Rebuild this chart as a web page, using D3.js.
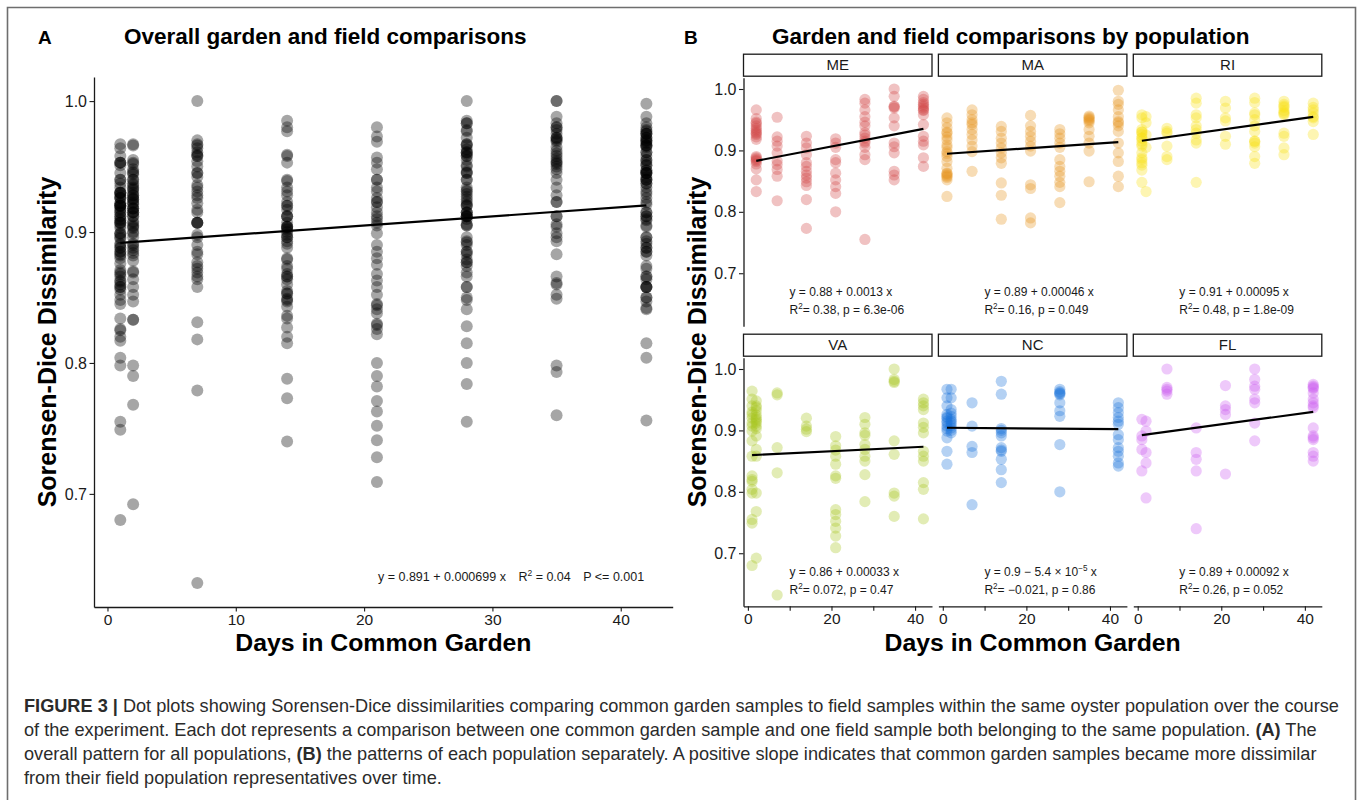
<!DOCTYPE html>
<html>
<head>
<meta charset="utf-8">
<script src="https://cdn.jsdelivr.net/npm/d3@7"></script>
<style>
  body { margin: 0; background: #fff; }
  svg { display: block; }
  text { font-family: "Liberation Sans", Arial, Helvetica, sans-serif; }
</style>
</head>
<body>
<svg id="fig" width="1362" height="800"></svg>
<script>
// ---- Data -------------------------------------------------------------
const populations = ["ME", "MA", "RI", "VA", "NC", "FL"];
const popColors   = ["#D24545", "#E8961E", "#F9E015", "#A6C61E", "#1A74DA", "#CB5CF0"];

// Sorensen-Dice dissimilarity (garden vs field), by day in common garden
const ME = {
  2:  [0.966, 0.952, 0.946, 0.944, 0.940, 0.936, 0.933, 0.930, 0.928, 0.926, 0.922, 0.918, 0.890, 0.888, 0.886, 0.884, 0.882, 0.878, 0.870, 0.852, 0.833],
  7:  [0.954, 0.922, 0.915, 0.907, 0.896, 0.883, 0.877, 0.869, 0.858, 0.818],
  14: [0.923, 0.912, 0.904, 0.893, 0.880, 0.874, 0.866, 0.860, 0.855, 0.849, 0.843, 0.820, 0.773],
  21: [0.919, 0.912, 0.905, 0.885, 0.880, 0.863, 0.852, 0.841, 0.830, 0.800],
  28: [0.983, 0.977, 0.966, 0.955, 0.946, 0.940, 0.929, 0.925, 0.920, 0.915, 0.912, 0.905, 0.893, 0.885, 0.755],
  35: [1.000, 0.988, 0.972, 0.971, 0.969, 0.953, 0.940, 0.912, 0.906, 0.896, 0.866, 0.860, 0.852],
  42: [0.988, 0.983, 0.978, 0.975, 0.972, 0.969, 0.966, 0.965, 0.958, 0.942, 0.923, 0.915, 0.909, 0.888, 0.874]
};
const MA = {
  1:  [0.953, 0.945, 0.937, 0.930, 0.928, 0.922, 0.917, 0.909, 0.905, 0.898, 0.895, 0.890, 0.882, 0.871, 0.863, 0.862, 0.860, 0.858, 0.856, 0.852, 0.825],
  7:  [0.966, 0.958, 0.950, 0.945, 0.942, 0.934, 0.926, 0.917, 0.907, 0.898, 0.866],
  14: [0.939, 0.931, 0.920, 0.912, 0.904, 0.896, 0.888, 0.879, 0.847, 0.827, 0.788],
  21: [0.957, 0.940, 0.931, 0.923, 0.915, 0.907, 0.899, 0.844, 0.838, 0.790, 0.782],
  28: [0.934, 0.927, 0.920, 0.912, 0.905, 0.885, 0.874, 0.866, 0.858, 0.848, 0.841, 0.815],
  35: [0.956, 0.954, 0.952, 0.950, 0.948, 0.945, 0.934, 0.923, 0.912, 0.899, 0.849],
  42: [0.998, 0.980, 0.975, 0.966, 0.955, 0.947, 0.945, 0.940, 0.931, 0.912, 0.896, 0.882, 0.858, 0.841]
};
const RI = {
  1:  [0.958, 0.953, 0.934, 0.930, 0.930, 0.926, 0.920, 0.920, 0.915, 0.910, 0.907, 0.896, 0.888, 0.885, 0.880, 0.876, 0.868, 0.848],
  2:  [0.955, 0.945, 0.925, 0.905, 0.833],
  7:  [0.936, 0.931, 0.928, 0.907, 0.890, 0.885],
  14: [0.985, 0.977, 0.958, 0.953, 0.940, 0.934, 0.928, 0.917, 0.912, 0.848],
  21: [0.980, 0.969, 0.953, 0.948, 0.923, 0.910],
  28: [0.985, 0.978, 0.961, 0.958, 0.950, 0.940, 0.931, 0.915, 0.915, 0.912, 0.906, 0.890, 0.879],
  35: [0.980, 0.975, 0.972, 0.970, 0.965, 0.962, 0.960, 0.958, 0.928, 0.923, 0.904, 0.893],
  42: [0.977, 0.970, 0.966, 0.961, 0.955, 0.953, 0.947, 0.926]
};
const VA = {
  1:  [0.964, 0.951, 0.940, 0.930, 0.926, 0.920, 0.912, 0.907, 0.899, 0.883, 0.858, 0.826, 0.820, 0.817, 0.804, 0.798, 0.755, 0.749, 0.680],
  2:  [0.948, 0.940, 0.937, 0.932, 0.925, 0.921, 0.918, 0.915, 0.912, 0.907, 0.903, 0.891, 0.869, 0.858, 0.798, 0.768, 0.692],
  7:  [0.961, 0.958, 0.872, 0.831, 0.632],
  14: [0.920, 0.907, 0.902, 0.898],
  21: [0.890, 0.875, 0.868, 0.858, 0.845, 0.826, 0.822, 0.771, 0.763, 0.752, 0.741, 0.728, 0.709],
  28: [0.921, 0.910, 0.896, 0.892, 0.877, 0.869, 0.858, 0.850, 0.828, 0.784],
  35: [1.000, 0.983, 0.980, 0.978, 0.883, 0.861, 0.798, 0.793, 0.760],
  42: [0.951, 0.945, 0.940, 0.934, 0.912, 0.905, 0.896, 0.866, 0.858, 0.850, 0.815, 0.804, 0.756]
};
const NC = {
  1:  [0.967, 0.953, 0.940, 0.926, 0.922, 0.920, 0.915, 0.912, 0.907, 0.903, 0.899, 0.888, 0.866, 0.845],
  2:  [0.967, 0.953, 0.934, 0.928, 0.923, 0.918, 0.915, 0.912, 0.908, 0.904, 0.900, 0.896],
  7:  [0.945, 0.907, 0.874, 0.864, 0.779],
  14: [0.980, 0.959, 0.903, 0.900, 0.896, 0.891, 0.872, 0.868, 0.866, 0.853, 0.836, 0.815],
  28: [0.967, 0.963, 0.961, 0.960, 0.958, 0.945, 0.932, 0.923, 0.877, 0.800],
  42: [0.945, 0.937, 0.929, 0.921, 0.915, 0.910, 0.893, 0.885, 0.872, 0.866, 0.858, 0.847, 0.842]
};
const FL = {
  1:  [0.918, 0.891, 0.885, 0.869, 0.834],
  2:  [0.915, 0.899, 0.864, 0.847, 0.790],
  7:  [1.000, 0.970, 0.967, 0.964, 0.959],
  14: [0.904, 0.864, 0.853, 0.834, 0.740],
  21: [0.973, 0.940, 0.934, 0.926, 0.829],
  28: [1.000, 0.983, 0.972, 0.967, 0.951, 0.945, 0.912, 0.883],
  42: [0.975, 0.972, 0.970, 0.968, 0.961, 0.951, 0.945, 0.940, 0.937, 0.904, 0.891, 0.888, 0.885, 0.864, 0.858, 0.850]
};
const popData = [ME, MA, RI, VA, NC, FL];

// Linear fits per population (y = a + b x)
const fitIntercept = [0.8804, 0.8941, 0.9148, 0.8595, 0.9044, 0.8915];
const fitSlope     = [0.0013, 0.00046, 0.00095, 0.00033, -0.000054, 0.00092];
const fitR2        = [0.38, 0.16, 0.48, 0.072, -0.021, 0.26];
const fitP         = ["6.3e-06", "0.049", "1.8e-09", "0.47", "0.86", "0.052"];

// Linear fit over all populations
const overallIntercept = 0.891;
const overallSlope = 0.000699;
const overallR2 = 0.04;
const overallP = "<= 0.001";

const yTicks = [0.7, 0.8, 0.9, 1.0];
const xTicksA = [0, 10, 20, 30, 40];
const xTicksB = [0, 10, 20, 30, 40];
const xLabelsB = [0, 20, 40];

const captionLines = [
  [{t: "FIGURE 3 |", b: true}, {t: " Dot plots showing Sorensen-Dice dissimilarities comparing common garden samples to field samples within the same oyster population over the course"}],
  [{t: "of the experiment. Each dot represents a comparison between one common garden sample and one field sample both belonging to the same population. "}, {t: "(A)", b: true}, {t: " The"}],
  [{t: "overall pattern for all populations, "}, {t: "(B)", b: true}, {t: " the patterns of each population separately. A positive slope indicates that common garden samples became more dissimilar"}],
  [{t: "from their field population representatives over time."}]
];

// ---- Helpers ------------------------------------------------------------
const svg = d3.select("#fig");
const INK = "#1a1a1a";

function toPoints(obj) {
  return Object.keys(obj).flatMap(d => obj[d].map(v => ({day: +d, value: v})));
}
function expand(ext, f = 0.05) {
  const pad = (ext[1] - ext[0]) * f;
  return [ext[0] - pad, ext[1] + pad];
}
// Appends text pieces; pieces flagged sup are raised superscripts,
// and the piece after a superscript returns to the baseline.
function richText(sel, pieces, fs) {
  let raised = 0;
  pieces.forEach(p => {
    const ts = sel.append("tspan").text(p.t);
    if (p.sup) {
      const shift = fs * 0.42;
      ts.attr("font-size", fs * 0.68).attr("dy", -shift);
      raised = shift;
    } else {
      if (raised) ts.attr("dy", raised);
      raised = 0;
      if (p.b) ts.attr("font-weight", "bold");
    }
  });
}
const minus = s => s.replace("-", "\u2212");
const fmtCoef = d3.format(".2~r");

function slopePieces(b, fmt) {
  const sign = b < 0 ? " \u2212 " : " + ";
  const a = Math.abs(b);
  if (a < 1e-4) {
    const e = Math.floor(Math.log10(a));
    const m = d3.format(".2~r")(a / Math.pow(10, e));
    return [{t: sign + m + " \u00d7 10"}, {t: "\u2212" + Math.abs(e), sup: true}, {t: " x"}];
  }
  return [{t: sign + fmt(a) + " x"}];
}

function styleAxis(g) {
  g.selectAll(".domain").attr("stroke", INK).attr("stroke-width", 1.3);
  g.selectAll(".tick line").attr("stroke", INK).attr("stroke-width", 1.1);
  g.selectAll(".tick text").attr("fill", INK)
    .style("font-family", '"Liberation Sans", Arial, sans-serif');
}

// ---- Shared scale domains ----------------------------------------------
const allPoints = popData.flatMap(toPoints);
const xDomain = expand(d3.extent(allPoints, d => d.day));
const yDomain = expand(d3.extent(allPoints, d => d.value));

// ---- Outer frame -----------------------------------------------------------
svg.append("path")
  .attr("d", "M7.5,801 V7.5 H1355.5 V801")
  .attr("fill", "none").attr("stroke", "#6e6e6e").attr("stroke-width", 1.6);

// ---- Panel A -------------------------------------------------------------
const A = {left: 94, right: 672.7, top: 77, bottom: 607};
const xA = d3.scaleLinear().domain(xDomain).range([A.left, A.right]);
const yA = d3.scaleLinear().domain(yDomain).range([A.bottom, A.top]);

svg.append("text").attr("x", 38).attr("y", 44).attr("font-size", 19)
  .attr("font-weight", "bold").attr("fill", "#000").text("A");
svg.append("text").attr("x", 124).attr("y", 44).attr("font-size", 22.5)
  .attr("font-weight", "bold").attr("fill", "#000").text("Overall garden and field comparisons");

const gA = svg.append("g");
gA.selectAll("circle").data(allPoints).join("circle")
  .attr("cx", d => xA(d.day)).attr("cy", d => yA(d.value)).attr("r", 6)
  .attr("fill", "#000").attr("fill-opacity", 0.35);

const dayExtAll = d3.extent(allPoints, d => d.day);
gA.append("line")
  .attr("x1", xA(dayExtAll[0])).attr("y1", yA(overallIntercept + overallSlope * dayExtAll[0]))
  .attr("x2", xA(dayExtAll[1])).attr("y2", yA(overallIntercept + overallSlope * dayExtAll[1]))
  .attr("stroke", "#000").attr("stroke-width", 2.2);

svg.append("g").attr("transform", `translate(${A.left},0)`)
  .call(d3.axisLeft(yA).tickValues(yTicks).tickFormat(d3.format(".1f")).tickSize(4.5).tickPadding(2.5).tickSizeOuter(0))
  .call(g => g.selectAll("text").attr("font-size", 16))
  .call(styleAxis);
svg.append("g").attr("transform", `translate(0,${A.bottom})`)
  .call(d3.axisBottom(xA).tickValues(xTicksA).tickFormat(d3.format("d")).tickSize(4.5).tickPadding(2.5).tickSizeOuter(0))
  .call(g => g.selectAll("text").attr("font-size", 15.5))
  .call(styleAxis);

{
  const fs = 12.5;
  const fmt3 = d3.format(".3~r");
  const t = svg.append("text").attr("x", 378).attr("y", 581).attr("font-size", fs).attr("fill", INK);
  richText(t, [
    {t: "y = " + fmt3(overallIntercept)},
    ...slopePieces(overallSlope, fmt3),
    {t: "\u2002\u2002R"}, {t: "2", sup: true}, {t: " = " + overallR2 + "\u2002\u2002P " + overallP}
  ], fs);
}

svg.append("text")
  .attr("transform", `translate(56,${(A.top + A.bottom) / 2}) rotate(-90)`)
  .attr("text-anchor", "middle").attr("font-size", 25).attr("font-weight", "bold")
  .attr("fill", "#000").text("Sorensen-Dice Dissimilarity");
svg.append("text").attr("x", (A.left + A.right) / 2).attr("y", 651)
  .attr("text-anchor", "middle").attr("font-size", 24.8).attr("font-weight", "bold")
  .attr("fill", "#000").text("Days in Common Garden");

// ---- Panel B (faceted by population) -------------------------------------
const colX = [743.5, 938.4, 1133.3];
const panelW = 188.5;
const rowTop = [77.7, 357.7];
const panelH = 248.6;

svg.append("text").attr("x", 684).attr("y", 44).attr("font-size", 19)
  .attr("font-weight", "bold").attr("fill", "#000").text("B");
svg.append("text").attr("x", 772).attr("y", 44).attr("font-size", 22.5)
  .attr("font-weight", "bold").attr("fill", "#000").text("Garden and field comparisons by population");

populations.forEach((pop, i) => {
  const col = i % 3, row = Math.floor(i / 3);
  const x0 = colX[col], top = rowTop[row], bottom = top + panelH;
  const x = d3.scaleLinear().domain(xDomain).range([x0, x0 + panelW]);
  const y = d3.scaleLinear().domain(yDomain).range([bottom, top]);
  const pts = toPoints(popData[i]);
  const g = svg.append("g");

  // strip
  g.append("rect").attr("x", x0).attr("y", top - 23.5).attr("width", panelW).attr("height", 22)
    .attr("fill", "#fff").attr("stroke", INK).attr("stroke-width", 1.3);
  g.append("text").attr("x", x0 + panelW / 2).attr("y", top - 7.3).attr("text-anchor", "middle")
    .attr("font-size", 15).attr("fill", INK).text(pop);

  g.selectAll("circle").data(pts).join("circle")
    .attr("cx", d => x(d.day)).attr("cy", d => y(d.value)).attr("r", 5.6)
    .attr("fill", popColors[i]).attr("fill-opacity", 0.33);

  const ext = d3.extent(pts, d => d.day);
  g.append("line")
    .attr("x1", x(ext[0])).attr("y1", y(fitIntercept[i] + fitSlope[i] * ext[0]))
    .attr("x2", x(ext[1])).attr("y2", y(fitIntercept[i] + fitSlope[i] * ext[1]))
    .attr("stroke", "#000").attr("stroke-width", 2.2);

  const fs = 12;
  const t1 = g.append("text").attr("x", x0 + 46).attr("y", top + 218).attr("font-size", fs).attr("fill", INK);
  richText(t1, [{t: "y = " + fmtCoef(fitIntercept[i])}, ...slopePieces(fitSlope[i], fmtCoef)], fs);
  const t2 = g.append("text").attr("x", x0 + 46).attr("y", top + 236).attr("font-size", fs).attr("fill", INK);
  richText(t2, [{t: "R"}, {t: "2", sup: true}, {t: "= " + minus(String(fitR2[i])) + ", p = " + fitP[i]}], fs);

  if (col === 0) {
    g.append("g").attr("transform", `translate(${x0},0)`)
      .call(d3.axisLeft(y).tickValues(yTicks).tickFormat(d3.format(".1f")).tickSize(4.5).tickPadding(2.5).tickSizeOuter(0))
      .call(a => a.selectAll("text").attr("font-size", 16))
      .call(styleAxis);
  }
  if (row === 1) {
    g.append("g").attr("transform", `translate(0,${bottom})`)
      .call(d3.axisBottom(x).tickValues(xTicksB)
        .tickFormat(d => xLabelsB.includes(d) ? d3.format("d")(d) : "")
        .tickSize(4.5).tickPadding(2.5).tickSizeOuter(0))
      .call(a => a.selectAll("text").attr("font-size", 15.5))
      .call(styleAxis);
  }
});

svg.append("text")
  .attr("transform", `translate(706,${(rowTop[0] + rowTop[1] + panelH) / 2}) rotate(-90)`)
  .attr("text-anchor", "middle").attr("font-size", 25).attr("font-weight", "bold")
  .attr("fill", "#000").text("Sorensen-Dice Dissimilarity");
svg.append("text").attr("x", (colX[0] + colX[2] + panelW) / 2).attr("y", 651)
  .attr("text-anchor", "middle").attr("font-size", 24.8).attr("font-weight", "bold")
  .attr("fill", "#000").text("Days in Common Garden");

// ---- Caption -------------------------------------------------------------
{
  const capX = 24, capWidth = 1316, baseY = 712, lead = 24;
  const texts = captionLines.map((line, k) => {
    const t = svg.append("text").attr("x", capX).attr("y", baseY + k * lead)
      .attr("font-size", 15).attr("fill", "#2b2b2b");
    richText(t, line, 15);
    return t;
  });
  const w = texts[0].node().getComputedTextLength();
  const fs = 15 * capWidth / w;
  texts.forEach(t => t.attr("font-size", fs));
}
</script>
</body>
</html>
